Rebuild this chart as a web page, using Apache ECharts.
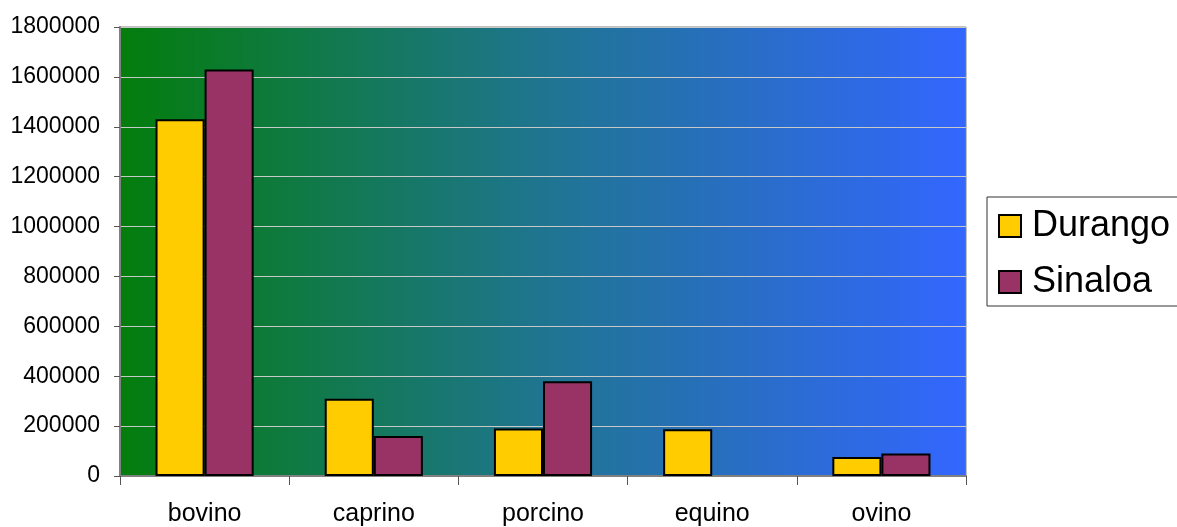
<!DOCTYPE html>
<html>
<head>
<meta charset="utf-8">
<script src="https://cdn.jsdelivr.net/npm/echarts@6/dist/echarts.min.js"></script>
<style>
html,body{margin:0;padding:0;background:#fff;}
#chart{width:1177px;height:527px;}
</style>
</head>
<body>
<div id="chart"></div>
<script>
const categories = ['bovino', 'caprino', 'porcino', 'equino', 'ovino'];
const durango = [1430000, 310000, 190000, 187000, 76000];
const sinaloa = [1630000, 160000, 380000, null, 90000];
const seriesNames = ['Durango', 'Sinaloa'];
const yTicks = { min: 0, max: 1800000, interval: 200000 };

const FONT = '"Liberation Sans", Arial, sans-serif';
const chart = echarts.init(document.getElementById('chart'), null, { renderer: 'canvas' });
chart.setOption({
  animation: false,
  textStyle: { fontFamily: FONT },
  grid: {
    left: 120, right: 211, top: 27, bottom: 50,
    show: true,
    borderColor: '#808080', borderWidth: 1,
    backgroundColor: {
      type: 'linear', x: 0, y: 0, x2: 1, y2: 0,
      colorStops: [
        { offset: 0, color: '#047d0c' },
        { offset: 0.5, color: '#1f7590' },
        { offset: 1, color: '#3366ff' }
      ]
    }
  },
  legend: {
    orient: 'vertical',
    left: 987, top: 197,
    padding: [11, 20, 6, 11],
    itemGap: 20,
    itemWidth: 22, itemHeight: 22,
    icon: 'rect',
    borderColor: '#333', borderWidth: 1,
    backgroundColor: '#fff',
    textStyle: { fontSize: 36, color: '#000', fontFamily: FONT, padding: [0, 0, 0, 6] },
    itemStyle: { borderColor: '#000', borderWidth: 2 },
    data: seriesNames
  },
  xAxis: {
    type: 'category',
    data: categories,
    axisLine: { lineStyle: { color: '#808080', width: 2 } },
    axisTick: { show: true, length: 9, lineStyle: { color: '#555' } },
    axisLabel: { fontSize: 25, color: '#000', margin: 26, fontFamily: FONT },
    splitLine: { show: false }
  },
  yAxis: {
    type: 'value',
    min: yTicks.min, max: yTicks.max, interval: yTicks.interval,
    axisLine: { show: true, lineStyle: { color: '#808080', width: 2 } },
    axisTick: { show: true, length: 6, lineStyle: { color: '#555' } },
    axisLabel: { fontSize: 23, color: '#000', margin: 20, fontFamily: FONT,
      formatter: function (v) { return String(v); } },
    splitLine: { show: true, lineStyle: { color: '#c8c8c8', width: 1 } }
  },
  series: [
    {
      name: seriesNames[0], type: 'bar', data: durango,
      barGap: '0%', barCategoryGap: '42%',
      itemStyle: { color: '#ffcc00', borderColor: '#000', borderWidth: 2 }
    },
    {
      name: seriesNames[1], type: 'bar', data: sinaloa,
      barGap: '0%', barCategoryGap: '42%',
      itemStyle: { color: '#993366', borderColor: '#000', borderWidth: 2 }
    }
  ]
});
</script>
</body>
</html>
